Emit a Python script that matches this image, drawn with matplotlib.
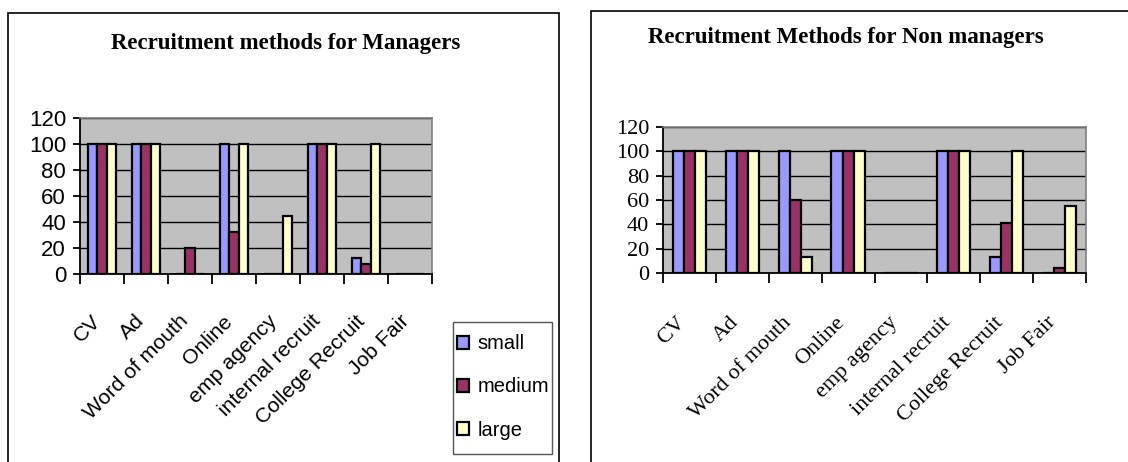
import matplotlib
matplotlib.use("Agg")
import matplotlib.pyplot as plt
import matplotlib.transforms as mtransforms
from matplotlib.patches import Rectangle, Patch
import numpy as np

categories = ["CV", "Ad", "Word of mouth", "Online", "emp agency",
              "internal recruit", "College Recruit", "Job Fair"]
series_names = ["small", "medium", "large"]

# managers
mgr_small = [100, 100, 0, 100, 0, 100, 12, 0]
mgr_medium = [100, 100, 20, 32, 0, 100, 8, 0]
mgr_large = [100, 100, 0, 100, 45, 100, 100, 0]

# non managers
non_small = [100, 100, 100, 100, 0, 100, 13, 0]
non_medium = [100, 100, 60, 100, 0, 100, 41, 4]
non_large = [100, 100, 13, 100, 0, 100, 100, 55]

yticks = [0, 20, 40, 60, 80, 100, 120]
colors = ["#9999FF", "#993366", "#FFFFCC"]
W, H = 1128, 462

fig = plt.figure(figsize=(W / 100, H / 100), dpi=100)


def px_rect(x0, y0, x1, y1):
    # pixel box (top-left origin) -> figure fraction [l, b, w, h]
    return [x0 / W, 1 - y1 / H, (x1 - x0) / W, (y1 - y0) / H]


def draw_chart(ax, data, font, ysize, xsize, lab_dx, pad):
    ax.set_facecolor("#C0C0C0")
    x = np.arange(len(categories))
    bw = 0.21
    for i, (vals, c) in enumerate(zip(data, colors)):
        ax.bar(x + (i - 1) * bw, vals, bw, color=c, edgecolor="black",
               linewidth=1.6, label=series_names[i], zorder=3)
    ax.set_xlim(-0.5, len(categories) - 0.5)
    ax.set_ylim(0, 120)
    ax.set_yticks(yticks)
    ax.yaxis.grid(True, color="black", linewidth=1, zorder=1)
    ax.set_axisbelow(True)
    for s in ["top", "right"]:
        ax.spines[s].set_color("#808080")
        ax.spines[s].set_linewidth(1.2)
    for s in ["left", "bottom"]:
        ax.spines[s].set_color("black")
        ax.spines[s].set_linewidth(1.3)
    ax.set_xticks(x, categories, rotation=45, ha="right", va="top",
                  rotation_mode="anchor")
    ax.set_xticks(np.arange(-0.5, len(categories)), minor=True)
    ax.tick_params(axis="x", which="major", length=0, pad=pad,
                   labelsize=xsize, labelfontfamily=font)
    ax.tick_params(axis="x", which="minor", length=7, width=1.3, color="black")
    ax.tick_params(axis="y", length=5, width=1.3, pad=5,
                   labelsize=ysize, labelfontfamily=font)
    # labels end a little left of the category centre
    off = mtransforms.ScaledTranslation(lab_dx / 100, 0, fig.dpi_scale_trans)
    for lab in ax.get_xticklabels():
        lab.set_transform(lab.get_transform() + off)


# left chart
ax1 = fig.add_axes(px_rect(80, 118, 432, 274))
draw_chart(ax1, [mgr_small, mgr_medium, mgr_large], "Liberation Sans",
           16, 15.3, -11, 27)
fig.text(286 / W, 1 - 43 / H, "Recruitment methods for Managers",
         ha="center", va="center", fontfamily="Liberation Serif",
         fontweight="bold", fontsize=16.5)

# legend: frame drawn separately so the padding can differ per direction
fig.patches.append(Rectangle((453 / W, 1 - 454 / H), 99 / W, 132 / H,
                             transform=fig.transFigure, facecolor="white",
                             edgecolor="#555555", linewidth=1))
handles = [Patch(facecolor=c, edgecolor="black", linewidth=1.6) for c in colors]
leg = fig.legend(handles, series_names, loc="center",
                 bbox_to_anchor=(503 / W, 1 - 387 / H), borderaxespad=0,
                 prop={"family": "Liberation Sans", "size": 14.5},
                 handlelength=0.6, handleheight=0.6, handletextpad=0.45,
                 labelspacing=1.2, borderpad=0, frameon=False)

# right chart
ax2 = fig.add_axes(px_rect(663, 127, 1086, 273))
draw_chart(ax2, [non_small, non_medium, non_large], "Liberation Serif",
           16, 16, -13, 29)
fig.text(846 / W, 1 - 37 / H, "Recruitment Methods for Non managers",
         ha="center", va="center", fontfamily="Liberation Serif",
         fontweight="bold", fontsize=16.5)

# outer frames
fig.patches.append(Rectangle((8 / W, -0.05), (559 - 8) / W, 1.05 - 13 / H,
                             transform=fig.transFigure, fill=False,
                             edgecolor="black", linewidth=1.2))
fig.patches.append(Rectangle((591 / W, -0.05), 0.6, 1.05 - 11 / H,
                             transform=fig.transFigure, fill=False,
                             edgecolor="black", linewidth=1.2))

fig.savefig("out.png", dpi=100)
